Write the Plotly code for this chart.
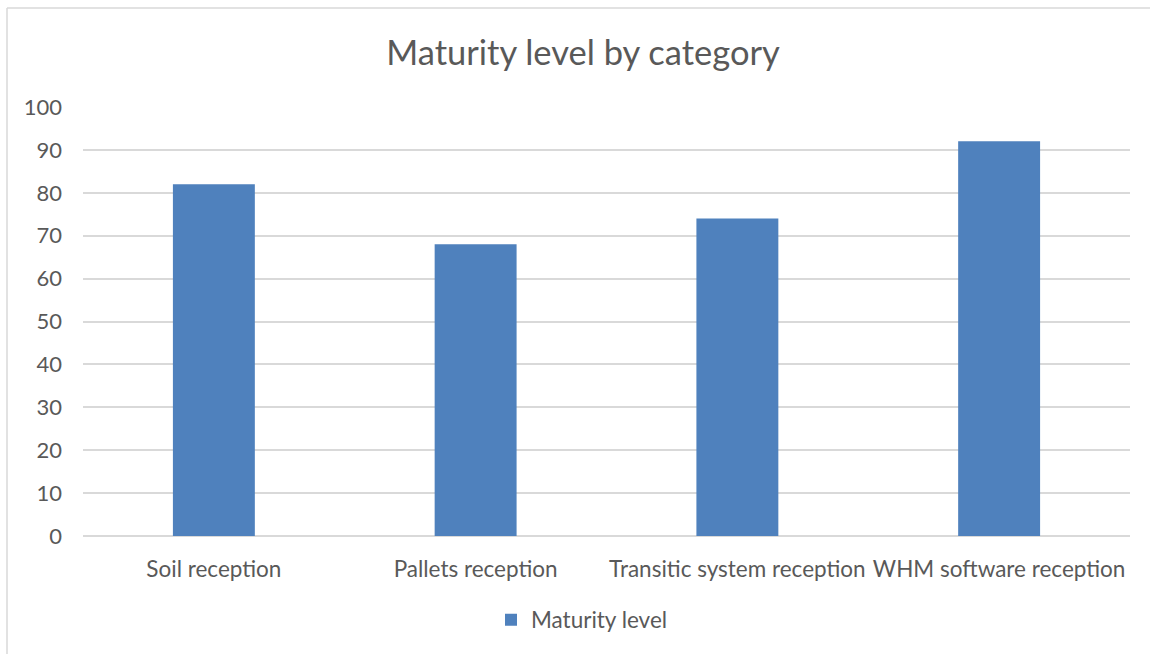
import plotly.graph_objects as go

categories = ["Soil reception", "Pallets reception", "Transitic system reception", "WHM software reception"]
values = [82, 68, 74, 92]
series_name = "Maturity level"
title_text = "Maturity level by category"
y_ticks = [0, 10, 20, 30, 40, 50, 60, 70, 80, 90, 100]

TXT = "#595959"
GRID = "#d9d9d9"
FONT = "Lato"

fig = go.Figure()
fig.add_trace(go.Bar(x=categories, y=values, name=series_name,
                     marker=dict(color="#4F81BD", line=dict(width=0)),
                     showlegend=True))

W, H = 1150, 654
L, R, T, B = 83, 20, 107, 118
pw = W - L - R
ph = H - T - B

fig.update_layout(
    width=W, height=H,
    margin=dict(l=L, r=R, t=T, b=B),
    paper_bgcolor="white", plot_bgcolor="white",
    font=dict(family=FONT, color=TXT, size=22),
    bargap=0.687,
    title=dict(text=title_text, x=(583 - L) / pw, xref="paper", xanchor="center",
               y=1 - 53 / H, yref="container", yanchor="middle",
               font=dict(family=FONT, size=34.5, color=TXT)),
    showlegend=True,
    legend=dict(orientation="h", x=(582 - L) / pw, xanchor="center",
                y=(536 - 620) / ph, yanchor="middle",
                font=dict(family=FONT, size=22.5, color=TXT),
                itemwidth=30),
    xaxis=dict(showgrid=False, showline=False, zeroline=False,
               ticks="", ticklabelstandoff=17, tickfont=dict(size=22.5, color=TXT)),
    yaxis=dict(range=[0, 100], tickvals=y_ticks, showgrid=True, gridcolor=GRID,
               gridwidth=1.5, zeroline=True, zerolinecolor=GRID, zerolinewidth=1.5,
               showline=False, ticks="", ticklabelstandoff=20,
               tickfont=dict(size=22, color=TXT)),
    shapes=[
        dict(type="line", xref="paper", yref="paper",
             x0=(7 - L) / pw, x1=(7 - L) / pw, y0=(B - H) / ph * 1.0 - 0.05, y1=1 + (T - 8) / ph,
             line=dict(color=GRID, width=1.5)),
        dict(type="line", xref="paper", yref="paper",
             x0=(7 - L) / pw, x1=1.2, y0=1 + (T - 8) / ph, y1=1 + (T - 8) / ph,
             line=dict(color=GRID, width=1.5)),
    ],
)

fig.write_html("out.html")
